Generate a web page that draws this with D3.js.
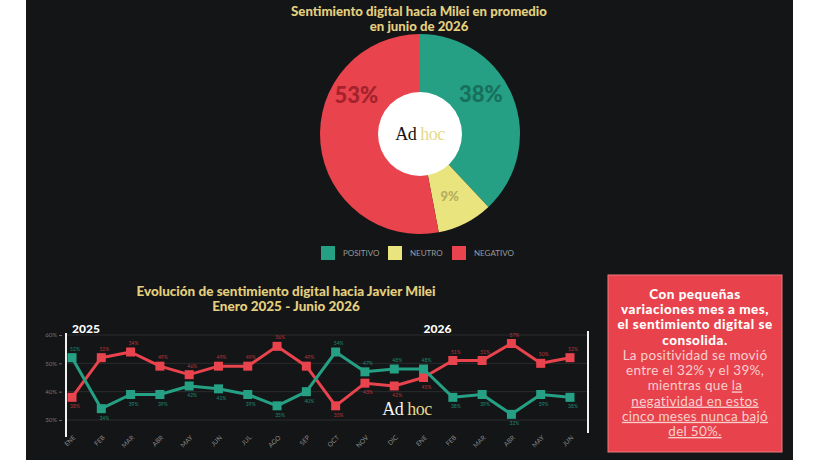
<!DOCTYPE html>
<html>
<head>
<meta charset="utf-8">
<script src="https://cdn.jsdelivr.net/npm/d3@7"></script>
<style>
  body { margin: 0; background: #ffffff; }
  svg { display: block; font-family: Lato, "Open Sans", sans-serif; }
</style>
</head>
<body>
<svg id="chart"></svg>
<script>
// donut data
var pieLabels = ["POSITIVO", "NEUTRO", "NEGATIVO"];
var pieValues = [38, 9, 53];

// monthly series, Jan 2025 - Jun 2026
var months = ["ENE", "FEB", "MAR", "ABR", "MAY", "JUN", "JUL", "AGO", "SEP", "OCT", "NOV", "DIC",
              "ENE", "FEB", "MAR", "ABR", "MAY", "JUN"];
var positivo = [52, 34, 39, 39, 42, 41, 39, 35, 40, 54, 47, 48, 48, 38, 39, 32, 39, 38];
var negativo = [38, 52, 54, 49, 46, 49, 49, 56, 49, 35, 43, 42, 45, 51, 51, 57, 50, 52];
var yTicks = [30, 40, 50, 60];
var yearLabels = ["2025", "2026"];

var pieColors = ["#25a084", "#e9e47e", "#e9434d"];
var pieTextColors = ["#17705c", "#b5ad5e", "#a3222c"];
var gold = "#e3cf7e";
var green = "#25a084";
var red = "#e9434d";

var svgWidth = 819;
var svgHeight = 460;

var svg = d3.select("#chart")
  .attr("width", svgWidth)
  .attr("height", svgHeight);

// dark panel between the white side strips
svg.append("rect")
  .attr("x", 26).attr("y", 0)
  .attr("width", 767).attr("height", svgHeight)
  .attr("fill", "#131516");

// ---------- top title ----------
var title1 = svg.append("text")
  .attr("text-anchor", "middle")
  .attr("fill", gold)
  .attr("font-weight", 900)
  .attr("font-size", 13.2);
title1.append("tspan").attr("x", 419).attr("y", 16).text("Sentimiento digital hacia Milei en promedio");
title1.append("tspan").attr("x", 419).attr("y", 30.5).text("en junio de 2026");

// ---------- donut ----------
var cx = 420, cy = 134, outerR = 100, innerR = 42;
var pieGroup = svg.append("g").attr("transform", `translate(${cx}, ${cy})`);

var pie = d3.pie().sort(null).value(d => d);
var arc = d3.arc().innerRadius(0).outerRadius(outerR);

pieGroup.selectAll("path.slice")
  .data(pie(pieValues))
  .enter().append("path")
  .attr("class", "slice")
  .attr("d", arc)
  .attr("fill", (d, i) => pieColors[i]);

pieGroup.append("circle").attr("r", innerR).attr("fill", "#ffffff");

// slice labels sit a bit higher than the centroid in the original
var labelArc = d3.arc().innerRadius(72).outerRadius(72);
var labelShift = [[-6, -14], [-3, -2], [8, -46]];
var labelSize = [22, 13, 22];
pieGroup.selectAll("text.pct")
  .data(pie(pieValues))
  .enter().append("text")
  .attr("class", "pct")
  .attr("text-anchor", "middle")
  .attr("dominant-baseline", "central")
  .attr("font-weight", 900)
  .attr("font-size", (d, i) => labelSize[i])
  .attr("fill", (d, i) => pieTextColors[i])
  .attr("x", (d, i) => labelArc.centroid(d)[0] + labelShift[i][0])
  .attr("y", (d, i) => labelArc.centroid(d)[1] + labelShift[i][1])
  .text(d => d.data + "%");

var logo = pieGroup.append("text")
  .attr("text-anchor", "middle")
  .attr("y", 6)
  .attr("font-family", "'Liberation Serif', serif")
  .attr("font-size", 18)
  .attr("letter-spacing", -0.5);
logo.append("tspan").attr("fill", "#111").text("Ad ");
logo.append("tspan").attr("fill", "#e6d98c").text("hoc");

// legend
var legendX = [321, 388, 452];
var legend = svg.append("g");
pieLabels.forEach(function(lab, i) {
  legend.append("rect")
    .attr("x", legendX[i]).attr("y", 246)
    .attr("width", 14).attr("height", 14)
    .attr("fill", pieColors[i]);
  legend.append("text")
    .attr("x", legendX[i] + 22).attr("y", 256)
    .attr("font-size", 8)
    .attr("fill", "#9a9a9a")
    .text(lab);
});

// ---------- line chart ----------
var title2 = svg.append("text")
  .attr("text-anchor", "middle")
  .attr("fill", gold)
  .attr("font-weight", 900)
  .attr("font-size", 13.5);
title2.append("tspan").attr("x", 286).attr("y", 296).text("Evolución de sentimiento digital hacia Javier Milei");
title2.append("tspan").attr("x", 286).attr("y", 311).text("Enero 2025 - Junio 2026");

var xScale = d3.scalePoint()
  .domain(d3.range(months.length))
  .range([72, 570]);

var yScale = d3.scaleLinear()
  .domain([30, 60])
  .range([420, 335]);

var chartGroup = svg.append("g");

// gridlines
chartGroup.selectAll("line.grid")
  .data(yTicks)
  .enter().append("line")
  .attr("class", "grid")
  .attr("x1", 66).attr("x2", 588)
  .attr("y1", d => yScale(d)).attr("y2", d => yScale(d))
  .attr("stroke", "#2a2d2f")
  .attr("stroke-width", 1);

var leftAxis = d3.axisLeft(yScale)
  .tickValues(yTicks)
  .tickFormat(d => d + "%")
  .tickSize(3)
  .tickPadding(2);

var yAxisG = chartGroup.append("g")
  .attr("transform", "translate(62, 0)")
  .call(leftAxis);
yAxisG.select(".domain").remove();
yAxisG.selectAll("line").attr("stroke", "#666");
yAxisG.selectAll("text").attr("fill", "#777").attr("font-size", 6).attr("font-family", "Lato, sans-serif");

// year separators
chartGroup.append("line")
  .attr("x1", 66).attr("x2", 66).attr("y1", 333).attr("y2", 437)
  .attr("stroke", "#f2f2f2").attr("stroke-width", 2);
chartGroup.append("line")
  .attr("x1", 588).attr("x2", 588).attr("y1", 331).attr("y2", 433)
  .attr("stroke", "#f2f2f2").attr("stroke-width", 2);

chartGroup.selectAll("text.year")
  .data(yearLabels)
  .enter().append("text")
  .attr("class", "year")
  .attr("x", (d, i) => i === 0 ? xScale(0) : xScale(12))
  .attr("y", 333)
  .attr("font-weight", 900)
  .attr("font-size", 12)
  .attr("fill", "#ffffff")
  .text(d => d);

// month labels, rotated
chartGroup.selectAll("text.month")
  .data(months)
  .enter().append("text")
  .attr("class", "month")
  .attr("text-anchor", "end")
  .attr("font-size", 6.5)
  .attr("fill", "#8a8a8a")
  .attr("transform", (d, i) => `translate(${xScale(i) + 4}, 438) rotate(-45)`)
  .text(d => d);

// watermark
var mark = chartGroup.append("text")
  .attr("x", 407).attr("y", 415)
  .attr("text-anchor", "middle")
  .attr("font-family", "'Liberation Serif', serif")
  .attr("font-size", 18)
  .attr("letter-spacing", -0.5);
mark.append("tspan").attr("fill", "#f4f4f4").text("Ad ");
mark.append("tspan").attr("fill", "#e6d98c").text("hoc");

var drawLine = d3.line()
  .x((d, i) => xScale(i))
  .y(d => yScale(d));

function drawSeries(values, other, color, labelColor) {
  chartGroup.append("path")
    .attr("d", drawLine(values))
    .attr("fill", "none")
    .attr("stroke", color)
    .attr("stroke-width", 3)
    .attr("stroke-linejoin", "round");

  chartGroup.selectAll(null)
    .data(values)
    .enter().append("rect")
    .attr("x", (d, i) => xScale(i) - 4.5)
    .attr("y", d => yScale(d) - 4.5)
    .attr("width", 9).attr("height", 9)
    .attr("fill", color);

  chartGroup.selectAll(null)
    .data(values)
    .enter().append("text")
    .attr("text-anchor", "middle")
    .attr("font-size", 5)
    .attr("fill", labelColor)
    .attr("x", (d, i) => xScale(i) + 3)
    .attr("y", (d, i) => d >= other[i] ? yScale(d) - 7 : yScale(d) + 11)
    .text(d => d + "%");
}

drawSeries(negativo, positivo, red, "#b8363e");
drawSeries(positivo, negativo, green, "#1f8a72");

// ---------- red note box ----------
svg.append("rect")
  .attr("x", 608).attr("y", 275)
  .attr("width", 174).attr("height", 177)
  .attr("fill", "#e8434c")
  .attr("stroke", "#f07a80")
  .attr("stroke-width", 1);

var noteBold = ["Con pequeñas", "variaciones mes a mes,", "el sentimiento digital se", "consolida."];
var noteBody = ["La positividad se movió", "entre el 32% y el 39%,"];
var noteUnder = ["negatividad en estos", "cinco meses nunca bajó", "del 50%."];

var note = svg.append("g").attr("text-anchor", "middle");
noteBold.forEach(function(t, i) {
  note.append("text")
    .attr("x", 695).attr("y", 299 + i * 15.2)
    .attr("font-weight", 900)
    .attr("font-size", 13.5)
    .attr("letter-spacing", 0.5)
    .attr("fill", "#ffffff")
    .text(t);
});
noteBody.forEach(function(t, i) {
  note.append("text")
    .attr("x", 695).attr("y", 360 + i * 15.2)
    .attr("font-size", 13.5)
    .attr("letter-spacing", 0.3)
    .attr("fill", "#f8cfcf")
    .text(t);
});
var mq = note.append("text")
  .attr("x", 695).attr("y", 390.4)
  .attr("font-size", 13.5)
  .attr("letter-spacing", 0.3)
  .attr("fill", "#f8cfcf");
mq.append("tspan").text("mientras que ");
mq.append("tspan").style("text-decoration", "underline").text("la");
noteUnder.forEach(function(t, i) {
  note.append("text")
    .attr("x", 695).attr("y", 405.6 + i * 15.2)
    .attr("font-size", 13.5)
    .attr("letter-spacing", 0.3)
    .attr("fill", "#f8cfcf")
    .style("text-decoration", "underline")
    .text(t);
});
</script>
</body>
</html>
